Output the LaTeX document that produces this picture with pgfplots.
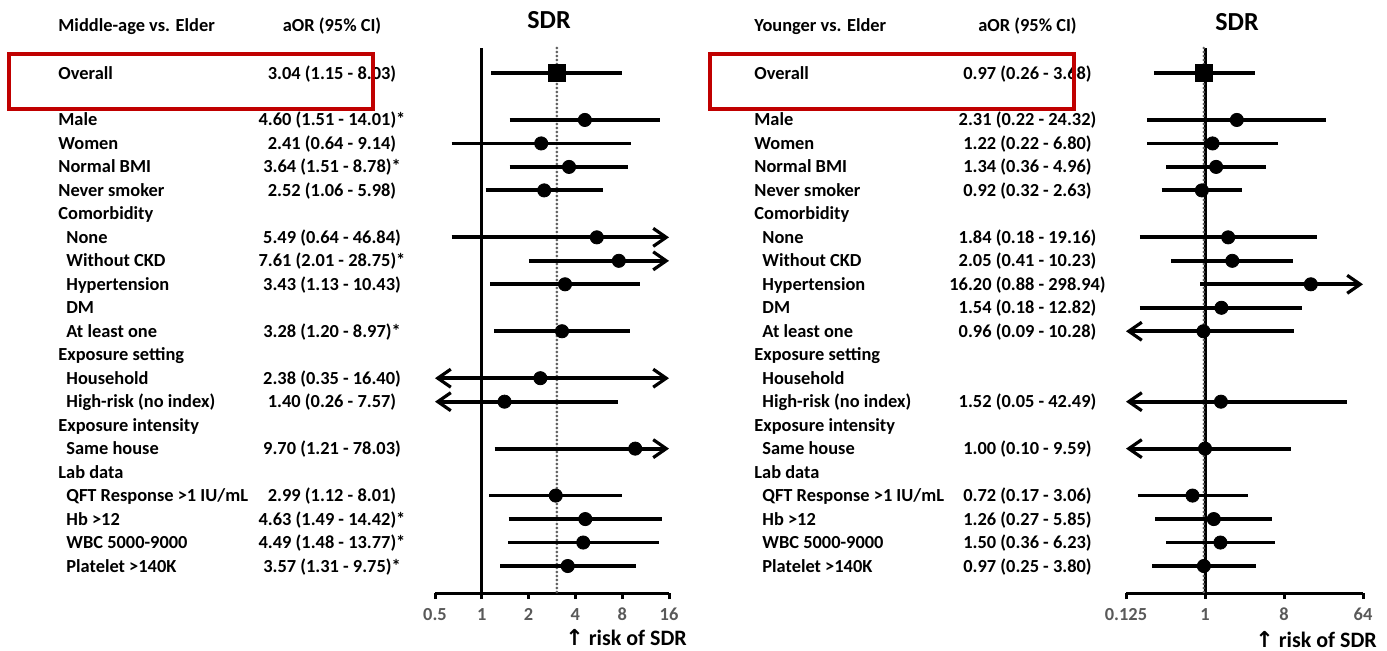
\documentclass[border=0pt]{standalone}
\usepackage{fontspec}
\setmainfont{Carlito}
\newfontfamily\dejavu{DejaVu Sans}
\usepackage{pgfplots}
\pgfplotsset{compat=1.18}
\usetikzlibrary{arrows.meta}
\definecolor{axgray}{RGB}{89,89,89}
\definecolor{boxred}{RGB}{192,0,0}
\definecolor{dotgray}{RGB}{95,95,95}
\newcommand\lbl{\fontsize{9.2}{11}\selectfont\bfseries}
\newcommand\capf{\fontsize{11}{13}\selectfont\bfseries}
\newcommand\hdr{\fontsize{13}{15}\selectfont\bfseries}
\tikzset{
  ci/.style={black, line width=1.9pt, line cap=butt},
  arr/.style={-{Straight Barb[length=6.5pt,width=9pt,line width=1.6pt]}},
  larr/.style={{Straight Barb[length=6.5pt,width=9pt,line width=1.6pt]}-},
  barr/.style={{Straight Barb[length=6.5pt,width=9pt,line width=1.6pt]}-{Straight Barb[length=6.5pt,width=9pt,line width=1.6pt]}},
  refline/.style={black, line width=1.5pt},
  dotline/.style={dotgray, line width=1.4pt, line cap=round, dash pattern=on 0pt off 2pt},
}
\begin{document}
\begin{tikzpicture}
\begin{scope}[x=0.5pt,y=-0.5pt]
\path (0,0) rectangle (1387,650);
% headers
\node[anchor=base west,inner sep=0pt,font=\lbl] at (58,31) {Middle-age vs. Elder};
\node[anchor=base,inner sep=0pt,font=\lbl] at (332,31) {aOR (95\% CI)};
\node[anchor=base,inner sep=0pt,font=\hdr] at (549,28) {SDR};
\node[anchor=base west,inner sep=0pt,font=\lbl] at (754,31) {Younger vs. Elder};
\node[anchor=base,inner sep=0pt,font=\lbl] at (1027.5,31) {aOR (95\% CI)};
\node[anchor=base,inner sep=0pt,font=\hdr] at (1237,30) {SDR};
% left labels
\foreach \i/\x/\lab/\val in {
 0/58/{Overall}/{3.04 (1.15 - 8.03)},
 2/58/{Male}/{4.60 (1.51 - 14.01)*},
 3/58/{Women}/{2.41 (0.64 - 9.14)},
 4/58/{Normal BMI}/{3.64 (1.51 - 8.78)*},
 5/58/{Never smoker}/{2.52 (1.06 - 5.98)},
 6/58/{Comorbidity}/{},
 7/66/{None}/{5.49 (0.64 - 46.84)},
 8/66/{Without CKD}/{7.61 (2.01 - 28.75)*},
 9/66/{Hypertension}/{3.43 (1.13 - 10.43)},
 10/66/{DM}/{},
 11/66/{At least one}/{3.28 (1.20 - 8.97)*},
 12/58/{Exposure setting}/{},
 13/66/{Household}/{2.38 (0.35 - 16.40)},
 14/66/{High-risk (no index)}/{1.40 (0.26 - 7.57)},
 15/58/{Exposure intensity}/{},
 16/66/{Same house}/{9.70 (1.21 - 78.03)},
 17/58/{Lab data}/{},
 18/66/{QFT Response >1 IU/mL}/{2.99 (1.12 - 8.01)},
 19/66/{Hb >12}/{4.63 (1.49 - 14.42)*},
 20/66/{WBC 5000-9000}/{4.49 (1.48 - 13.77)*},
 21/66/{Platelet >140K}/{3.57 (1.31 - 9.75)*}}{
  \pgfmathsetmacro\yy{73+23.48*\i+6}
  \node[anchor=base west,inner sep=0pt,font=\lbl] at (\x,\yy) {\lab};
  \node[anchor=base,inner sep=0pt,font=\lbl] at (332,\yy) {\val};
}
% right labels
\foreach \i/\x/\lab/\val in {
 0/754/{Overall}/{0.97 (0.26 - 3.68)},
 2/754/{Male}/{2.31 (0.22 - 24.32)},
 3/754/{Women}/{1.22 (0.22 - 6.80)},
 4/754/{Normal BMI}/{1.34 (0.36 - 4.96)},
 5/754/{Never smoker}/{0.92 (0.32 - 2.63)},
 6/754/{Comorbidity}/{},
 7/762/{None}/{1.84 (0.18 - 19.16)},
 8/762/{Without CKD}/{2.05 (0.41 - 10.23)},
 9/762/{Hypertension}/{16.20 (0.88 - 298.94)},
 10/762/{DM}/{1.54 (0.18 - 12.82)},
 11/762/{At least one}/{0.96 (0.09 - 10.28)},
 12/754/{Exposure setting}/{},
 13/762/{Household}/{},
 14/762/{High-risk (no index)}/{1.52 (0.05 - 42.49)},
 15/754/{Exposure intensity}/{},
 16/762/{Same house}/{1.00 (0.10 - 9.59)},
 17/754/{Lab data}/{},
 18/762/{QFT Response >1 IU/mL}/{0.72 (0.17 - 3.06)},
 19/762/{Hb >12}/{1.26 (0.27 - 5.85)},
 20/762/{WBC 5000-9000}/{1.50 (0.36 - 6.23)},
 21/762/{Platelet >140K}/{0.97 (0.25 - 3.80)}}{
  \pgfmathsetmacro\yy{73+23.48*\i+6}
  \node[anchor=base west,inner sep=0pt,font=\lbl] at (\x,\yy) {\lab};
  \node[anchor=base,inner sep=0pt,font=\lbl] at (1027.5,\yy) {\val};
}
% x-axis captions
\node[anchor=base west,inner sep=0pt,font=\capf] at (565,645) {{\dejavu ↑} risk of SDR};
\node[anchor=base west,inner sep=0pt,font=\capf] at (1255,647) {{\dejavu ↑} risk of SDR};
\end{scope}

% ---------------- left forest plot ----------------
\begin{axis}[
  xmode=log, log basis x=2,
  scale only axis, clip=false,
  ymin=-22.15, ymax=1.065,
  height=272.5pt, width=117pt,
  xmin=0.5, xmax=16,
  axis x line*=bottom, axis y line=none,
  x axis line style={line width=1.5pt,-},
  tick align=outside, major tick length=3pt,
  every tick/.style={black,line width=1.5pt},
  minor xtick={}, ytick=\empty,
  xtick={0.5,1,2,4,8,16}, xticklabels={0.5,1,2,4,8,16},
  xticklabel style={font=\lbl, text=axgray, yshift=-1pt},
  at={(217.5pt,-296.5pt)}, anchor=south west]
\addplot[refline] coordinates {(1,1.065) (1,-22.15)};
\addplot[dotline] coordinates {(3.04,1.065) (3.04,-22.15)};
\addplot[ci] coordinates {(1.15,0) (8.03,0)};
\addplot[ci] coordinates {(1.51,-2) (14.01,-2)};
\addplot[ci] coordinates {(0.64,-3) (9.14,-3)};
\addplot[ci] coordinates {(1.51,-4) (8.78,-4)};
\addplot[ci] coordinates {(1.06,-5) (5.98,-5)};
\addplot[ci,arr] coordinates {(0.64,-7) (16,-7)};
\addplot[ci,arr] coordinates {(2.01,-8) (16,-8)};
\addplot[ci] coordinates {(1.13,-9) (10.43,-9)};
\addplot[ci] coordinates {(1.20,-11) (8.97,-11)};
\addplot[ci,barr] coordinates {(0.5,-13) (16,-13)};
\addplot[ci,larr] coordinates {(0.5,-14) (7.57,-14)};
\addplot[ci,arr] coordinates {(1.21,-16) (16,-16)};
\addplot[ci] coordinates {(1.12,-18) (8.01,-18)};
\addplot[ci] coordinates {(1.49,-19) (14.42,-19)};
\addplot[ci] coordinates {(1.48,-20) (13.77,-20)};
\addplot[ci] coordinates {(1.31,-21) (9.75,-21)};
\addplot[only marks, mark=square*, mark size=4.3pt, black] coordinates {(3.04,0)};
\addplot[only marks, mark=*, mark size=3.3pt, black] coordinates {
(4.60,-2) (2.41,-3) (3.64,-4) (2.52,-5) (5.49,-7) (7.61,-8) (3.43,-9)
(3.28,-11) (2.38,-13) (1.40,-14) (9.70,-16) (2.99,-18) (4.63,-19)
(4.49,-20) (3.57,-21)};
\end{axis}

% ---------------- right forest plot ----------------
\begin{axis}[
  xmode=log, log basis x=2,
  scale only axis, clip=false,
  ymin=-22.15, ymax=1.065,
  height=272.5pt, width=118.5pt,
  xmin=0.125, xmax=64,
  axis x line*=bottom, axis y line=none,
  x axis line style={line width=1.5pt,-},
  tick align=outside, major tick length=3pt,
  every tick/.style={black,line width=1.5pt},
  minor xtick={}, ytick=\empty,
  xtick={0.125,1,8,64}, xticklabels={0.125,1,8,64},
  xticklabel style={font=\lbl, text=axgray, yshift=-1pt},
  at={(563pt,-296.5pt)}, anchor=south west]
\addplot[refline] coordinates {(1,1.065) (1,-22.15)};
\addplot[dotline] coordinates {(0.97,1.065) (0.97,-22.15)};
\addplot[ci] coordinates {(0.26,0) (3.68,0)};
\addplot[ci] coordinates {(0.22,-2) (24.32,-2)};
\addplot[ci] coordinates {(0.22,-3) (6.80,-3)};
\addplot[ci] coordinates {(0.36,-4) (4.96,-4)};
\addplot[ci] coordinates {(0.32,-5) (2.63,-5)};
\addplot[ci] coordinates {(0.18,-7) (19.16,-7)};
\addplot[ci] coordinates {(0.41,-8) (10.23,-8)};
\addplot[ci,arr] coordinates {(0.88,-9) (64,-9)};
\addplot[ci] coordinates {(0.18,-10) (12.82,-10)};
\addplot[ci,larr] coordinates {(0.125,-11) (10.28,-11)};
\addplot[ci,larr] coordinates {(0.125,-14) (42.49,-14)};
\addplot[ci,larr] coordinates {(0.125,-16) (9.59,-16)};
\addplot[ci] coordinates {(0.17,-18) (3.06,-18)};
\addplot[ci] coordinates {(0.27,-19) (5.85,-19)};
\addplot[ci] coordinates {(0.36,-20) (6.23,-20)};
\addplot[ci] coordinates {(0.25,-21) (3.80,-21)};
\addplot[only marks, mark=square*, mark size=4.3pt, black] coordinates {(0.97,0)};
\addplot[only marks, mark=*, mark size=3.3pt, black] coordinates {
(2.31,-2) (1.22,-3) (1.34,-4) (0.92,-5) (1.84,-7) (2.05,-8) (16.20,-9)
(1.54,-10) (0.96,-11) (1.52,-14) (1.00,-16) (0.72,-18) (1.26,-19)
(1.50,-20) (0.97,-21)};
\end{axis}

\begin{scope}[x=0.5pt,y=-0.5pt]
\draw[boxred, line width=2pt] (9,54) rectangle (373,109);
\draw[boxred, line width=2pt] (710,54) rectangle (1074,109);
\end{scope}
\end{tikzpicture}
\end{document}
